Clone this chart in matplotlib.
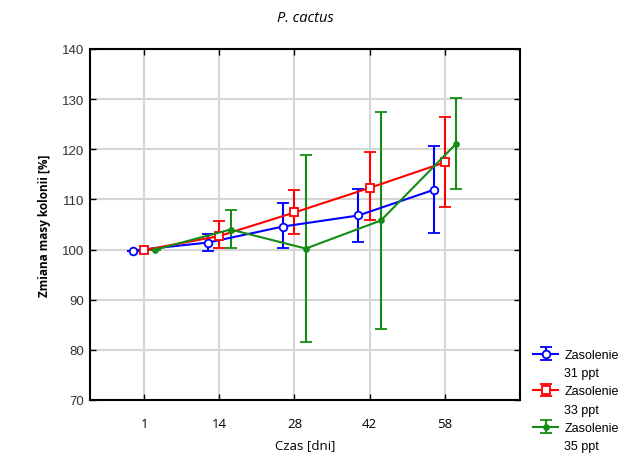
import matplotlib
matplotlib.use("Agg")
import matplotlib.pyplot as plt
from matplotlib.lines import Line2D
import numpy as np

# Czas [dni] - kategorie na osi X
days = ["1", "14", "28", "42", "58"]

# Zasolenie 31 ppt
mean_31 = [99.8, 101.4, 104.6, 106.8, 111.9]
low_31 = [99.8, 99.8, 100.4, 101.6, 103.3]
high_31 = [99.8, 103.2, 109.3, 112.1, 120.6]

# Zasolenie 33 ppt
mean_33 = [99.9, 102.7, 107.4, 112.3, 117.4]
low_33 = [99.9, 100.4, 103.1, 105.9, 108.5]
high_33 = [99.9, 105.7, 111.8, 119.4, 126.5]

# Zasolenie 35 ppt
mean_35 = [100.0, 104.0, 100.2, 105.8, 121.1]
low_35 = [100.0, 100.3, 81.5, 84.2, 112.0]
high_35 = [100.0, 107.9, 118.8, 127.4, 130.3]

salinity = ["31 ppt", "33 ppt", "35 ppt"]
colors = ["#0000ff", "#ff0000", "#148c14"]
markers = ["o", "s", "o"]
msizes = [5.5, 5.5, 3.5]
mfcs = ["white", "white", "#148c14"]
offsets = [-0.15, 0.0, 0.15]

fig = plt.figure(figsize=(6.3, 4.6), dpi=100)
ax = fig.add_axes([90 / 630, 1 - 401 / 460, 430 / 630, 351 / 460])

x = np.arange(len(days))
series = [(mean_31, low_31, high_31), (mean_33, low_33, high_33), (mean_35, low_35, high_35)]
handles = []
for (m, lo, hi), c, mk, ms, mfc, off in zip(series, colors, markers, msizes, mfcs, offsets):
    m = np.array(m)
    yerr = [m - np.array(lo), np.array(hi) - m]
    h = ax.errorbar(x + off, m, yerr=yerr, color=c, lw=1.5, marker=mk, ms=ms,
                    mfc=mfc, mec=c, mew=1.3, capsize=4, capthick=1.5, elinewidth=1.5,
                    zorder=3)
    handles.append(h)

ax.set_xlim(-0.72, 5.0)
ax.set_ylim(70, 140)
ax.set_xticks(x)
ax.set_xticklabels(days, fontfamily="Open Sans", fontsize=9.5)
ax.set_yticks(np.arange(70, 141, 10))
for t in ax.get_yticklabels():
    t.set_fontfamily("Liberation Sans")
    t.set_fontsize(9.5)
    t.set_color("#333333")

ax.grid(True, color="#d6d6d6", lw=1.5, zorder=0)
ax.set_axisbelow(True)
ax.tick_params(direction="in", top=True, right=True, length=4, width=1, pad=12, color="black")
ax.tick_params(axis="y", pad=4)
for s in ax.spines.values():
    s.set_linewidth(1.5)

ax.set_xlabel("Czas [dni]", fontfamily="Open Sans", fontsize=9.5, labelpad=6)
ax.set_ylabel("Zmiana masy kolonii [%]", fontfamily="Open Sans", fontweight="bold",
              fontsize=8.5, labelpad=8)
ax.set_title("P. cactus", fontfamily="Open Sans", fontstyle="italic", fontsize=10.5, pad=20)

# legenda: symbol przy "Zasolenie", druga linia bez symbolu
blank = Line2D([], [], alpha=0)
leg_handles, leg_labels = [], []
for h, s in zip(handles, salinity):
    leg_handles += [h, blank]
    leg_labels += ["Zasolenie", s]

fig.legend(leg_handles, leg_labels, loc="upper left", bbox_to_anchor=(528 / 630, 1 - 345 / 460),
           frameon=False, prop={"family": "Liberation Sans", "size": 9},
           handlelength=2.0, handletextpad=0.5, labelspacing=0.5, borderaxespad=0)

fig.savefig("out.png", dpi=100)
